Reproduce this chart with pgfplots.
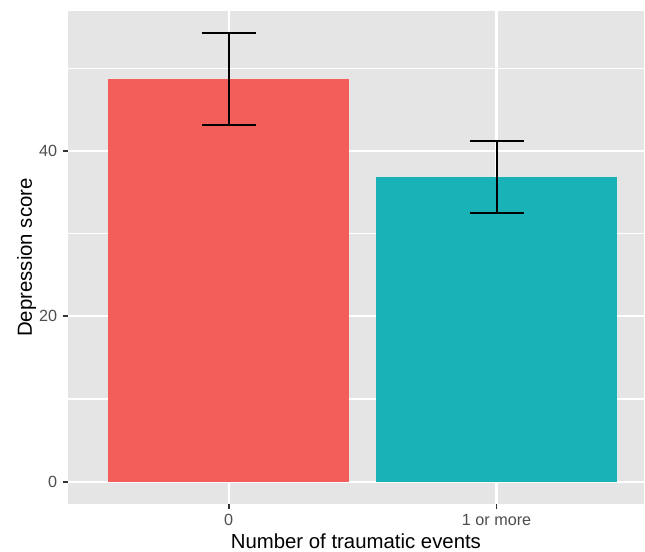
\documentclass[border=0pt]{standalone}
\usepackage{fontspec}
\setmainfont{Liberation Sans}
\usepackage{pgfplots}
\pgfplotsset{compat=1.18}
\definecolor{barred}{RGB}{243,94,90}
\definecolor{barteal}{RGB}{25,178,183}
\definecolor{panelgrey}{RGB}{229,229,229}
\definecolor{ticklab}{RGB}{77,77,77}
\definecolor{tickcol}{RGB}{51,51,51}
\begin{document}
\begin{tikzpicture}
\begin{axis}[
  name=ax,
  scale only axis,
  width=577pt, height=494pt,
  xmin=0.4, xmax=2.55,
  ymin=-2.71, ymax=56.93,
  axis background/.style={fill=panelgrey},
  axis line style={draw=none},
  xtick={1,2}, xticklabels={0,1 or more},
  ytick={0,20,40}, minor ytick={10,30,50},
  xtick pos=bottom, ytick pos=left,
  grid=both,
  major grid style={white, line width=2.2pt},
  minor grid style={white, line width=1.1pt},
  tick align=outside,
  major tick length=5pt,
  minor tick length=0pt,
  tick style={tickcol, line width=1.8pt},
  /pgf/number format/assume math mode=true,
  ticklabel style={font=\fontsize{16.2}{18}\selectfont, text=ticklab, inner sep=0pt},
  xticklabel style={anchor=base, yshift=-16pt},
  yticklabel style={anchor=east, xshift=-5.7pt},
  xlabel={Number of traumatic events},
  xlabel style={font=\fontsize{20.4}{24}\selectfont, text=black,
    at={(axis description cs:0.5,0)}, anchor=base, yshift=-44pt, inner sep=0pt},
  ybar, bar width=0.9, bar shift=0pt,
  error bars/y dir=both, error bars/y explicit,
  error bars/error bar style={black, line width=2pt},
  error bars/error mark options={black, line width=2pt, mark size=27pt, rotate=90},
]
\addplot[draw=none, fill=barred] coordinates {(1,48.7) +- (0,5.6)};
\addplot[draw=none, fill=barteal] coordinates {(2,36.85) +- (0,4.4)};
\end{axis}
% y axis title
\node[rotate=90, anchor=base, inner sep=0pt, font=\fontsize{20.4}{24}\selectfont]
  at ([xshift=-36pt]ax.west) {Depression score};
\path ([xshift=-68pt,yshift=-47pt]ax.south west) rectangle ([yshift=11pt]ax.north east);
\end{tikzpicture}
\end{document}
